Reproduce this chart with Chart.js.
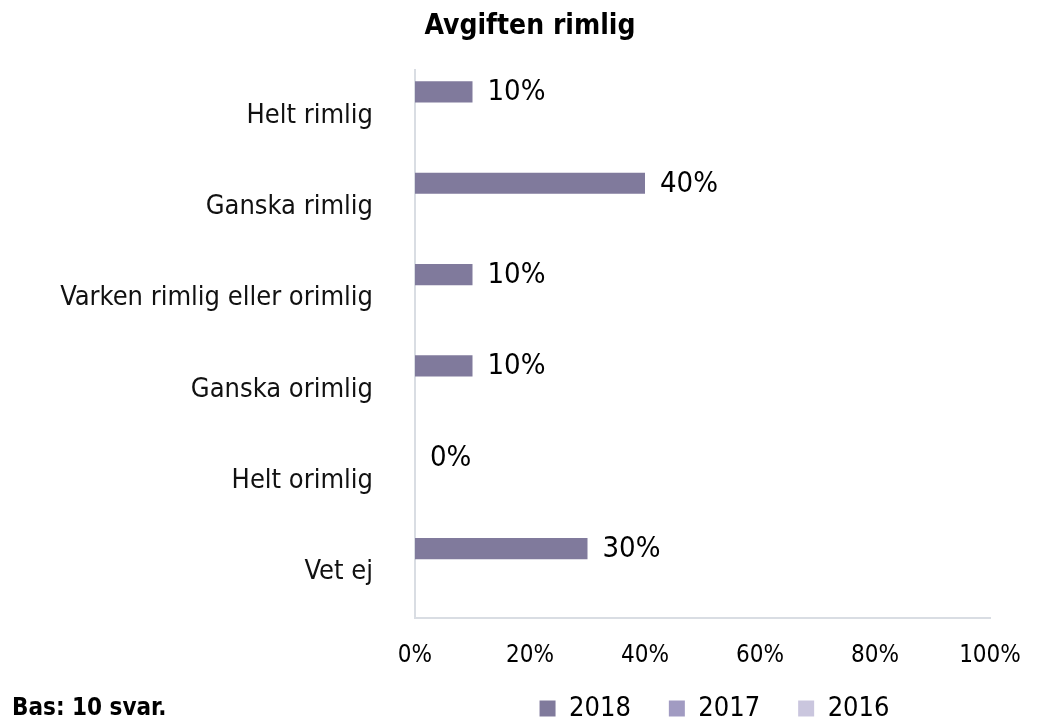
<!DOCTYPE html>
<html>
<head>
<meta charset="utf-8">
<script src="https://cdn.jsdelivr.net/npm/chart.js@4.4.1/dist/chart.umd.min.js"></script>
<style>
  html, body { margin: 0; padding: 0; background: #fff; }
  #wrap { position: relative; width: 1050px; height: 723px; }
  #title {
    position: absolute; left: 330px; width: 400px; top: 8px; text-align: center;
    font: bold 28px "DejaVu Sans Condensed", "DejaVu Sans", sans-serif;
    color: #000;
  }
  #bas {
    position: absolute; left: 12px; top: 693px;
    font: bold 24px "DejaVu Sans Condensed", "DejaVu Sans", sans-serif;
    color: #000;
  }
</style>
</head>
<body>
<div id="wrap">
  <canvas id="chart" width="1050" height="723"></canvas>
  <div id="title">Avgiften rimlig</div>
  <div id="bas">Bas: 10 svar.</div>
</div>
<script>
const categories = ["Helt rimlig", "Ganska rimlig", "Varken rimlig eller orimlig", "Ganska orimlig", "Helt orimlig", "Vet ej"];
const values2018 = [10, 40, 10, 10, 0, 30];
const values2017 = [null, null, null, null, null, null];
const values2016 = [null, null, null, null, null, null];
const xTicks = [0, 20, 40, 60, 80, 100];

const FONT = '"DejaVu Sans Condensed", "DejaVu Sans", sans-serif';

// % labels to the right of the 2018 bars
const valueLabels = {
  id: "valueLabels",
  afterDatasetsDraw(chart) {
    const ctx = chart.ctx;
    const meta = chart.getDatasetMeta(0);
    ctx.save();
    ctx.font = "29px " + FONT;
    ctx.fillStyle = "#000";
    ctx.textAlign = "left";
    ctx.textBaseline = "middle";
    meta.data.forEach((bar, i) => {
      const v = chart.data.datasets[0].data[i];
      if (v === null) return;
      ctx.fillText(v + "%", bar.x + 15, bar.y + 1);
    });
    ctx.restore();
  }
};

// legend: wide item spacing but a short box, nudged right like the original
const legendFit = {
  id: "legendFit",
  afterInit(chart) {
    const lg = chart.legend;
    if (!lg) return;
    const fit = lg.fit;
    lg.fit = function () {
      fit.call(this);
      this.height = 52;
      if (this.lineWidths && this.lineWidths.length) this.lineWidths[0] -= 24;
    };
  },
  afterLayout(chart) {
    const lg = chart.legend;
    if (!lg) return;
    lg.top = chart.height - 66;
    lg.bottom = chart.height;
  }
};

new Chart(document.getElementById("chart"), {
  type: "bar",
  data: {
    labels: categories,
    datasets: [
      { label: "2018", data: values2018, backgroundColor: "rgb(128,122,156)" },
      { label: "2017", data: values2017, backgroundColor: "rgb(161,155,194)" },
      { label: "2016", data: values2016, backgroundColor: "rgb(202,198,222)" }
    ]
  },
  options: {
    indexAxis: "y",
    responsive: false,
    animation: false,
    categoryPercentage: 0.78,
    barPercentage: 0.89,
    layout: { padding: { left: 10, right: 60, top: 70, bottom: 0 } },
    scales: {
      x: {
        min: 0,
        max: 100,
        afterBuildTicks(scale) {
          scale.ticks = xTicks.map(v => ({ value: v }));
        },
        afterFit(scale) { scale.height = 53; },
        ticks: {
          callback: v => v + "%",
          font: { size: 24, family: FONT },
          color: "#000",
          padding: 23
        },
        grid: { display: false, drawTicks: false },
        border: { color: "#d9dde3", width: 2 }
      },
      y: {
        afterFit(scale) { scale.width = 405; },
        ticks: {
          font: { size: 27, family: FONT },
          color: "#111",
          padding: 42
        },
        grid: { display: false, drawTicks: false },
        border: { color: "#d9dde3", width: 2 }
      }
    },
    plugins: {
      title: { display: false },
      legend: {
        position: "bottom",
        fullSize: false,
        labels: {
          font: { size: 27, family: FONT },
          color: "#000",
          boxWidth: 16,
          boxHeight: 16,
          padding: 38
        }
      },
      tooltip: { enabled: false }
    }
  },
  plugins: [valueLabels, legendFit]
});
</script>
</body>
</html>
